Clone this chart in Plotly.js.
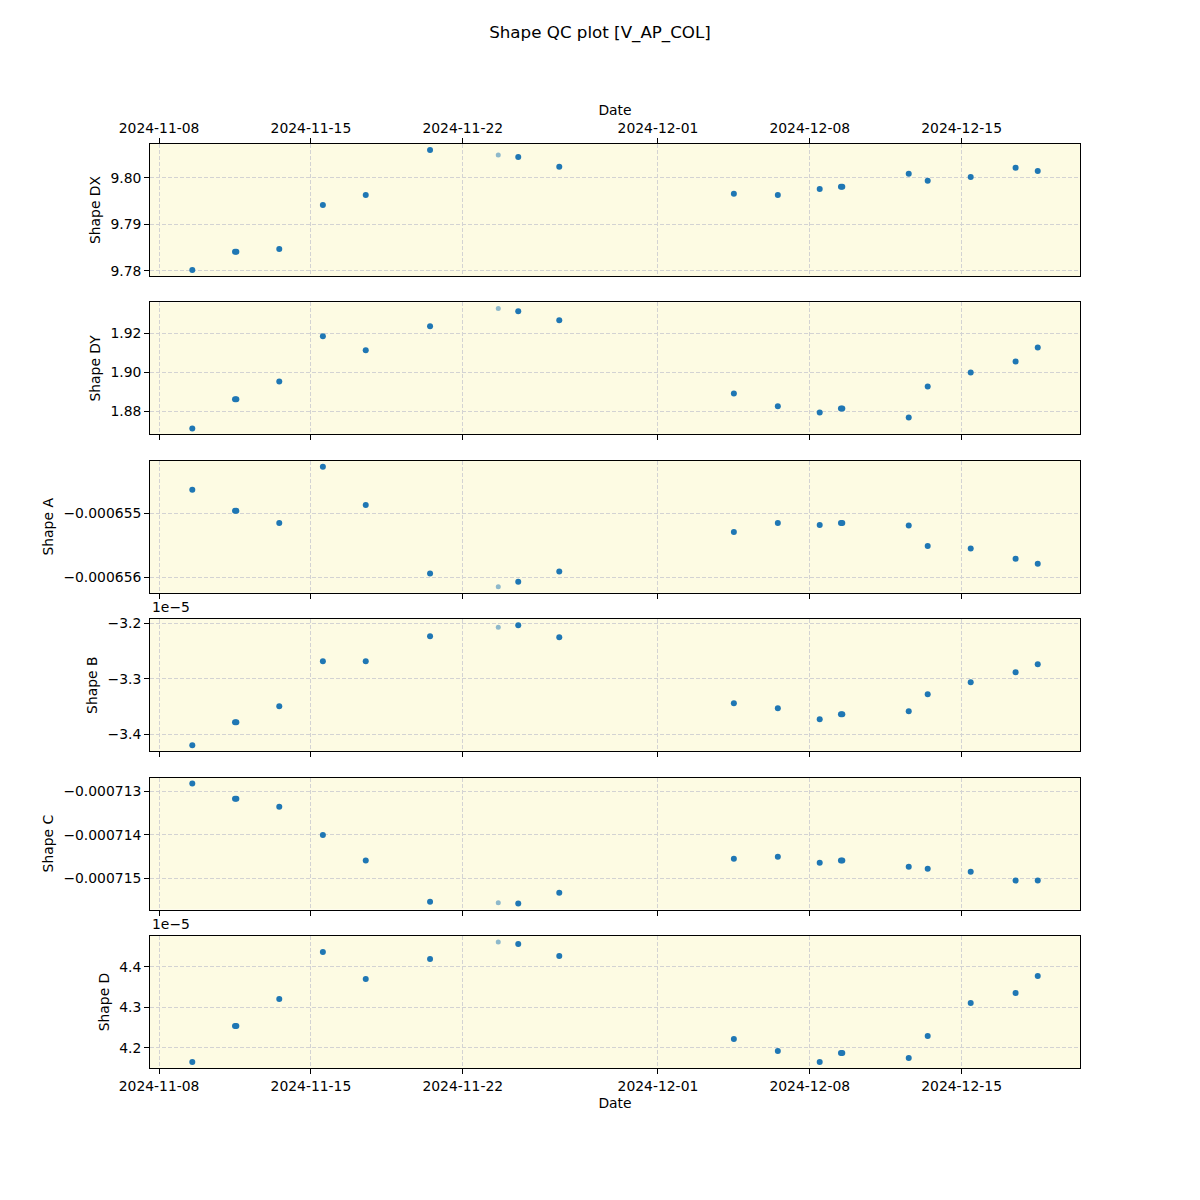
<!DOCTYPE html>
<html>
<head>
<meta charset="utf-8">
<script src="https://cdn.plot.ly/plotly-3.0.1.min.js"></script>
<style>html,body{margin:0;padding:0;background:#fff;}#chart{width:1200px;height:1200px;}</style>
</head>
<body>
<div id="chart"></div>
<script>
// ---- data ----
const dates = ['2024-11-09 12:45','2024-11-11 12:00','2024-11-11 13:30','2024-11-13 13:00','2024-11-15 13:15','2024-11-17 12:40','2024-11-20 11:50','2024-11-23 15:20','2024-11-24 13:25','2024-11-26 10:50','2024-12-04 12:00','2024-12-06 12:40','2024-12-08 11:00','2024-12-09 10:30','2024-12-09 12:00','2024-12-12 13:30','2024-12-13 10:30','2024-12-15 10:05','2024-12-17 11:45','2024-12-18 12:15'];
const flagged = [false,false,false,false,false,false,false,true,false,false,false,false,false,false,false,false,false,false,false,false];

const shapeDX = [9.7802,9.7841,9.7841,9.7847,9.7942,9.7963,9.8060,9.8049,9.8045,9.8024,9.7966,9.7963,9.7976,9.7981,9.7981,9.8009,9.7994,9.8002,9.8022,9.8015];
const shapeDY = [1.8713,1.8862,1.8862,1.8954,1.9185,1.9113,1.9236,1.9328,1.9313,1.9267,1.8892,1.8826,1.8795,1.8815,1.8815,1.8769,1.8928,1.9000,1.9056,1.9128];
const shapeA = [-0.00065463,-0.00065496,-0.00065496,-0.00065515,-0.00065427,-0.00065487,-0.00065594,-0.00065615,-0.00065607,-0.00065591,-0.00065529,-0.00065515,-0.00065518,-0.00065515,-0.00065515,-0.00065519,-0.00065551,-0.00065555,-0.00065571,-0.00065579];
const shapeB = [-3.4198e-5,-3.3784e-5,-3.3784e-5,-3.3495e-5,-3.2685e-5,-3.2685e-5,-3.2234e-5,-3.2072e-5,-3.2036e-5,-3.2252e-5,-3.3441e-5,-3.3532e-5,-3.3730e-5,-3.3640e-5,-3.3640e-5,-3.3586e-5,-3.3279e-5,-3.3063e-5,-3.2883e-5,-3.2739e-5];
const shapeC = [-0.00071282,-0.00071317,-0.00071317,-0.00071335,-0.00071400,-0.00071459,-0.00071554,-0.00071556,-0.00071558,-0.00071533,-0.00071455,-0.00071450,-0.00071464,-0.00071459,-0.00071459,-0.00071473,-0.00071478,-0.00071485,-0.00071505,-0.00071505];
const shapeD = [4.1654e-5,4.2543e-5,4.2543e-5,4.3210e-5,4.4370e-5,4.3704e-5,4.4198e-5,4.4617e-5,4.4568e-5,4.4272e-5,4.2222e-5,4.1926e-5,4.1654e-5,4.1877e-5,4.1877e-5,4.1753e-5,4.2296e-5,4.3111e-5,4.3358e-5,4.3778e-5];

const panelNames = ['Shape DX','Shape DY','Shape A','Shape B','Shape C','Shape D'];
const dateTicks = ['2024-11-08','2024-11-15','2024-11-22','2024-12-01','2024-12-08','2024-12-15'];
const tickValsDX = [9.78,9.79,9.80];   const tickTextDX = ['9.78','9.79','9.80'];
const tickValsDY = [1.88,1.90,1.92];   const tickTextDY = ['1.88','1.90','1.92'];
const tickValsA = [-0.000655,-0.000656]; const tickTextA = ['\u22120.000655','\u22120.000656'];
const tickValsB = [-3.2e-5,-3.3e-5,-3.4e-5]; const tickTextB = ['\u22123.2','\u22123.3','\u22123.4'];
const tickValsC = [-0.000713,-0.000714,-0.000715]; const tickTextC = ['\u22120.000713','\u22120.000714','\u22120.000715'];
const tickValsD = [4.2e-5,4.3e-5,4.4e-5]; const tickTextD = ['4.2','4.3','4.4'];
const offsetLabels = ['','','','1e\u22125','','1e\u22125'];

// ---- build ----
const series = [shapeDX,shapeDY,shapeA,shapeB,shapeC,shapeD];
const tickVals = [tickValsDX,tickValsDY,tickValsA,tickValsB,tickValsC,tickValsD];
const tickTexts = [tickTextDX,tickTextDY,tickTextA,tickTextB,tickTextC,tickTextD];

const FONT = 'DejaVu Sans, sans-serif';
const FS = 13.9;
const BLUE = '#1f77b4';
const GRID = '#d3d3d3';
const BG = '#fdfbe3';
const xRange = ['2024-11-07 13:57','2024-12-20 11:01'];

const traces = [];
const layout = {
  width: 1200, height: 1200,
  margin: {l:0,r:0,t:0,b:0},
  paper_bgcolor: '#ffffff',
  plot_bgcolor: BG,
  showlegend: false,
  font: {family: FONT, size: FS, color: '#000'},
  title: {text: 'Shape QC plot [V_AP_COL]', x: 0.5, xanchor: 'center', y: 1 - 32/1200, yanchor: 'middle', font: {family: FONT, size: 16.7, color: '#000'}},
  annotations: []
};

for (let i = 0; i < 6; i++) {
  const n = i + 1;
  const xa = n === 1 ? 'x' : 'x' + n;
  const ya = n === 1 ? 'y' : 'y' + n;
  const vals = series[i];
  const normX = [], normY = [], flX = [], flY = [];
  vals.forEach((v, k) => {
    if (flagged[k]) { flX.push(dates[k]); flY.push(v); } else { normX.push(dates[k]); normY.push(v); }
  });
  traces.push({x: normX, y: normY, xaxis: xa, yaxis: ya, type: 'scatter', mode: 'markers', marker: {color: BLUE, size: 6, line: {width: 0}}, hoverinfo: 'skip'});
  traces.push({x: flX, y: flY, xaxis: xa, yaxis: ya, type: 'scatter', mode: 'markers', marker: {color: BLUE, size: 5, opacity: 0.5, line: {width: 0}}, hoverinfo: 'skip'});

  const top = 0.88 - i * 0.132;
  const bot = top - 0.11;
  const mn = Math.min(...vals), mx = Math.max(...vals);
  const pad = (mx - mn) * 0.05;

  const xAxis = {
    domain: [0.125, 0.9], anchor: ya, type: 'date', range: xRange,
    tickvals: dateTicks, tickformat: '%Y-%m-%d',
    ticks: 'outside', ticklen: 4.9, tickwidth: 1, tickcolor: '#000',
    showgrid: true, gridcolor: GRID, griddash: '4px,2px', gridwidth: 1,
    showline: true, linecolor: '#000', linewidth: 1, mirror: true,
    zeroline: false, tickfont: {family: FONT, size: FS, color: '#000'},
    showticklabels: (n === 1 || n === 6),
    side: n === 1 ? 'top' : 'bottom'
  };
  if (n === 1) {
    xAxis.title = {text: 'Date', font: {family: FONT, size: FS, color: '#000'}, standoff: 0};
  } else if (n === 6) {
    xAxis.title = {text: 'Date', font: {family: FONT, size: FS, color: '#000'}, standoff: 5};
  }
  const yAxis = {
    domain: [bot, top], anchor: xa, range: [mn - pad, mx + pad],
    tickvals: tickVals[i], ticktext: tickTexts[i],
    ticks: 'outside', ticklen: 4.9, tickwidth: 1, tickcolor: '#000',
    showgrid: true, gridcolor: GRID, griddash: '4px,2px', gridwidth: 1,
    showline: true, linecolor: '#000', linewidth: 1, mirror: true,
    zeroline: false, tickfont: {family: FONT, size: FS, color: '#000'},
    title: {text: panelNames[i], font: {family: FONT, size: FS, color: '#000'}, standoff: 6}
  };
  layout[n === 1 ? 'xaxis' : 'xaxis' + n] = xAxis;
  layout[n === 1 ? 'yaxis' : 'yaxis' + n] = yAxis;

  if (offsetLabels[i]) {
    layout.annotations.push({text: offsetLabels[i], xref: 'paper', yref: 'paper', x: 0.125, y: top, xanchor: 'left', yanchor: 'bottom', yshift: 2, showarrow: false, font: {family: FONT, size: FS, color: '#000'}});
  }
}

Plotly.newPlot('chart', traces, layout, {staticPlot: true, displayModeBar: false});
</script>
</body>
</html>
